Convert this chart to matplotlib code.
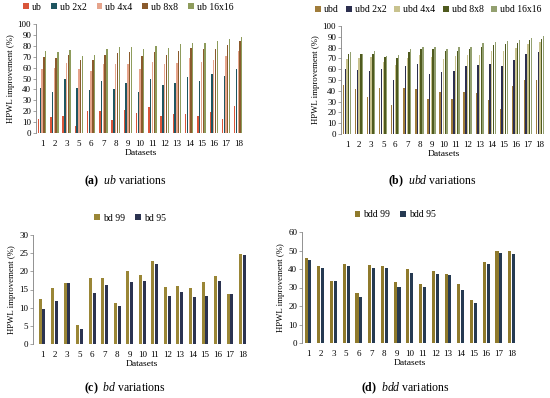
#!/usr/bin/env python3

import numpy
import matplotlib
matplotlib.use('Agg')
import matplotlib.pyplot as plt

datasets = ['1', '2', '3', '5', '6', '7', '8', '9', '10', '11', '12', '13',
            '14', '15', '16', '17', '18']

# (a) ub variations
ub_labels = ['ub', 'ub 2x2', 'ub 4x4', 'ub 8x8', 'ub 16x16']
ub = [12.6, 14.7, 16, 6, 20, 20, 12, 21, 18, 24, 16, 17, 17, 16, 19, 13, 25]
ub_2x2 = [41, 38, 50, 41, 39, 48, 40, 46, 38, 50, 44, 46, 51, 48, 54, 52, 59]
ub_4x4 = [59, 60, 64, 59, 57, 63, 63, 63, 59, 65, 63, 64, 69, 65, 67, 70.5,
          75]
ub_8x8 = [70, 69, 72, 67, 67, 72, 73, 74, 70.5, 74.5, 72, 75, 78, 77, 77, 81,
          84]
ub_16x16 = [75, 74, 76, 71, 72, 77.5, 79, 79, 77, 80, 78, 81.5, 83, 83, 84,
            86.5, 88.5]

# (b) ubd variations
ubd_labels = ['ubd', 'ubd 2x2', 'ubd 4x4', 'ubd 8x8', 'ubd 16x16']
ubd = [45.5, 42, 34, 43, 27, 42.5, 41.5, 32.6, 39, 32, 39, 38, 31.5, 23, 44,
       50, 50]
ubd_2x2 = [60.5, 59, 58.5, 60, 50, 63, 65, 55.5, 57, 58, 63, 63.5, 64.5, 63,
           68.6, 74, 75.5]
ubd_4x4 = [69, 70, 71, 67, 64, 70, 73, 71, 69, 72, 73, 73.5, 77, 77, 80, 83,
           85]
ubd_8x8 = [74.5, 74, 74.5, 71, 70.5, 75.5, 79, 78.5, 77, 77, 78.5, 81, 82, 83,
           84, 87, 88]
ubd_16x16 = [76, 74.5, 76.5, 72, 73, 78.5, 80.5, 81, 79, 81, 80.5, 84, 85, 86,
             87, 89, 91]

# (c) bd variations
bd_labels = ['bd 99', 'bd 95']
bd_99 = [12.3, 15.4, 16.7, 5.3, 18.3, 18.3, 11.4, 20.1, 18.9, 22.8, 15.6, 16,
         15.4, 17, 18.7, 13.8, 24.8]
bd_95 = [9.6, 11.7, 16.7, 4, 14.1, 16.3, 10.5, 17, 17.3, 21.9, 13.3, 14.2,
         12.8, 13.3, 17.4, 13.8, 24.5]

# (d) bdd variations
bdd_labels = ['bdd 99', 'bdd 95']
bdd_99 = [46, 41.8, 33.7, 42.7, 27.2, 42.1, 41.8, 32.8, 40, 31.9, 38.9, 37.5,
          31.7, 23.3, 43.7, 49.8, 49.5]
bdd_95 = [44.8, 40.5, 33.3, 41.6, 25.1, 40.7, 40.3, 30.5, 38, 30.1, 37.3,
          36.7, 28.7, 21.5, 42.5, 48.7, 48]

plt.rcParams['font.family'] = 'Liberation Serif'
plt.rcParams['mathtext.fontset'] = 'custom'
plt.rcParams['mathtext.rm'] = 'Liberation Serif'
plt.rcParams['mathtext.it'] = 'Liberation Serif:italic'
plt.rcParams['mathtext.bf'] = 'Liberation Serif:bold'

W, H = 550, 398
fig = plt.figure(figsize=(5.5, 3.98), dpi=100)


def px_axes(left, top, right, bottom):
        return fig.add_axes([left / W, 1 - bottom / H, (right - left) / W,
                             (bottom - top) / H])


def panel(ax, series, labels, colors, group, ymax, ystep, xlim):
        n = len(series)
        w = group / n
        x = numpy.arange(len(datasets))
        handles = []
        for i, (vals, lab, col) in enumerate(zip(series, labels, colors)):
                h = ax.bar(x + (i - (n - 1) / 2) * w, vals, w * 0.8,
                           color=col, label=lab)
                handles.append(h)
        ax.set_xlim(*xlim)
        ax.set_ylim(0, ymax)
        ax.set_yticks(numpy.arange(0, ymax + 0.1, ystep))
        ax.set_xticks(x)
        ax.set_xticklabels(datasets)
        for s in ('top', 'right', 'bottom'):
                ax.spines[s].set_visible(False)
        ax.spines['left'].set_color('#808080')
        ax.spines['left'].set_linewidth(0.6)
        ax.tick_params(axis='y', labelsize=6.5, length=2, width=0.5,
                       color='#808080', pad=1.5)
        ax.tick_params(axis='x', labelsize=6.5, length=0, pad=5)
        ax.set_ylabel('HPWL improvement (%)', fontsize=6.3, labelpad=2)
        ax.set_xlabel('Datasets', fontsize=6.8, labelpad=1)
        return handles


def legend(hs, cx, cy, spacing=1.0):
        fig.legend(handles=hs, loc='center', bbox_to_anchor=(cx / W,
                                                             1 - cy / H),
                   ncol=len(hs), frameon=False, fontsize=7,
                   handlelength=0.6, handleheight=0.6, handletextpad=0.3,
                   columnspacing=spacing)


# (a)
ax = px_axes(36, 24, 245, 133)
hs = panel(ax, [ub, ub_2x2, ub_4x4, ub_8x8, ub_16x16], ub_labels,
           ['#d9553a', '#1f5560', '#e6a48c', '#8a5a2c', '#8e9c5c'], 0.72,
           100, 10, (-0.5, 16.55))
legend(hs, 128, 7)
fig.text(125 / W, 1 - 181 / H, r'$\mathbf{(a)}$  $\mathit{ub}$ variations',
         ha='center', va='center', fontsize=8.5)

# (b)
ax = px_axes(341, 26, 546, 134)
hs = panel(ax, [ubd, ubd_2x2, ubd_4x4, ubd_8x8, ubd_16x16], ubd_labels,
           ['#a07c3a', '#2c2f4f', '#c8c28e', '#4f5a1e', '#93a070'], 0.72,
           100, 10, (-0.5, 16.5))
legend(hs, 428, 10, spacing=0.8)
fig.text(432 / W, 1 - 181 / H, r'$\mathbf{(b)}$  $\mathit{ubd}$ variations',
         ha='center', va='center', fontsize=8.5)

# (c)
ax = px_axes(33, 235, 250, 344)
hs = panel(ax, [bd_99, bd_95], bd_labels, ['#9a8636', '#2b3350'], 0.6, 30,
           5, (-0.72, 16.6))
legend(hs, 130, 218)
fig.text(125 / W, 1 - 388 / H, r'$\mathbf{(c)}$  $\mathit{bd}$ variations',
         ha='center', va='center', fontsize=8.5)

# (d)
ax = px_axes(302, 232, 518, 343)
hs = panel(ax, [bdd_99, bdd_95], bdd_labels, ['#8f7a2c', '#263a52'], 0.6, 60,
           10, (-0.47, 16.5))
legend(hs, 395, 215)
fig.text(405 / W, 1 - 388 / H, r'$\mathbf{(d)}$  $\mathit{bdd}$ variations',
         ha='center', va='center', fontsize=8.5)

fig.savefig('out.png', dpi=100)
